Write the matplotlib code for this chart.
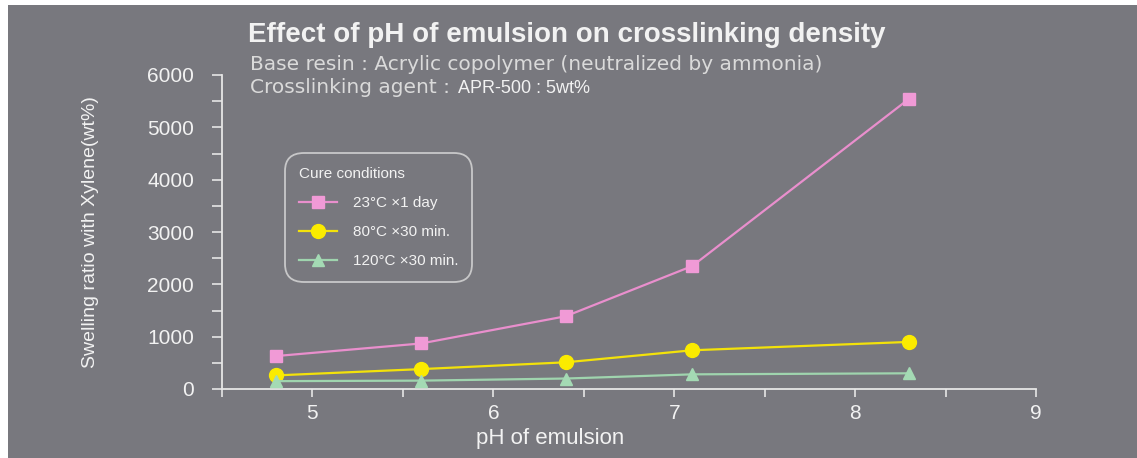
#! /bin/env python3

''' Swelling ratio vs pH of emulsion, one line per cure condition '''

import matplotlib
matplotlib.use('Agg')
import matplotlib.pyplot as plt
from matplotlib.patches import Rectangle
from matplotlib.ticker import MultipleLocator

ph_values = [4.8, 5.6, 6.4, 7.1, 8.3]
swell_23c_1day = [630, 870, 1390, 2350, 5550]
swell_80c_30min = [260, 380, 510, 740, 900]
swell_120c_30min = [150, 160, 200, 280, 300]

series_labels = ['23\u00b0C \u00d71 day', '80\u00b0C \u00d730 min.', '120\u00b0C \u00d730 min.']
x_ticks = [5, 6, 7, 8, 9]
y_ticks = [0, 1000, 2000, 3000, 4000, 5000, 6000]

title = 'Effect of pH of emulsion on crosslinking density'
subtitle_1 = 'Base resin : Acrylic copolymer (neutralized by ammonia)'
subtitle_2a = 'Crosslinking agent :'
subtitle_2b = 'APR-500 : 5wt%'

BG = '#78787e'
FG = '#f2f2f2'
SUB = '#dadada'
W, H = 1137, 458


def _main():
    plt.rcParams.update({'font.family': ['Liberation Sans', 'DejaVu Sans']})

    fig = plt.figure(figsize=(W / 100, H / 100), dpi=100, facecolor='white')
    # grey scanned page, with a thin white strip on the top and the left
    fig.patches.append(Rectangle((8 / W, 0), 1 - 8 / W, 1 - 5 / H, transform=fig.transFigure,
                                 facecolor=BG, edgecolor='none', zorder=-10))

    ax = fig.add_axes([222 / W, 1 - 389 / H, (1036 - 222) / W, (389 - 75) / H])
    ax.set_facecolor('none')

    ax.plot(ph_values, swell_23c_1day, color='#e98fcd', linewidth=1.6, marker='s',
            markersize=9, markerfacecolor='#f09ad6', markeredgecolor='#f09ad6',
            label=series_labels[0], zorder=3)
    ax.plot(ph_values, swell_80c_30min, color='#f3e20a', linewidth=1.6, marker='o',
            markersize=10, markerfacecolor='#fbeb00', markeredgecolor='#fbeb00',
            label=series_labels[1], zorder=3)
    ax.plot(ph_values, swell_120c_30min, color='#9fd4ae', linewidth=1.6, marker='^',
            markersize=9, markerfacecolor='#a4dab4', markeredgecolor='#a4dab4',
            label=series_labels[2], zorder=3)

    ax.set_xlim(4.5, 9)
    ax.set_ylim(0, 6000)
    ax.set_xticks(x_ticks)
    ax.set_yticks(y_ticks)
    ax.xaxis.set_minor_locator(MultipleLocator(0.5))
    ax.yaxis.set_minor_locator(MultipleLocator(500))

    for side in ('top', 'right'):
        ax.spines[side].set_visible(False)
    for side in ('left', 'bottom'):
        ax.spines[side].set_color('#e6e6e6')
        ax.spines[side].set_linewidth(1.3)

    ax.tick_params(axis='x', which='both', direction='out', length=6, width=1.2,
                   color='#e6e6e6', labelcolor=FG, labelsize=15, pad=5)
    ax.tick_params(axis='y', which='both', direction='out', length=7, width=1.2,
                   color='#e6e6e6', labelcolor=FG, labelsize=15, pad=13)

    ax.set_xlabel('pH of emulsion', color=FG, fontsize=16)
    ax.xaxis.set_label_coords(0.403, -0.125)
    ax.set_ylabel('Swelling ratio with Xylene(wt%)', color=FG, fontsize=14, labelpad=35)

    leg = ax.legend(title='Cure conditions', loc='upper left', bbox_to_anchor=(0.078, 0.752),
                    borderaxespad=0, fontsize=11, title_fontsize=11, frameon=True,
                    fancybox=True, facecolor='none', edgecolor='#dcdcdc', handlelength=2.5,
                    handletextpad=1.0, labelspacing=1.0, borderpad=0.9, alignment='left')
    leg.get_frame().set_linewidth(1.3)
    leg.get_frame().set_boxstyle('round,pad=0,rounding_size=1.2')
    leg.get_title().set_color(FG)
    for text in leg.get_texts():
        text.set_color(FG)

    fig.text(248 / W, 1 - 42 / H, title, color=FG, fontsize=20, fontweight='bold',
             va='baseline', ha='left')
    fig.text(250 / W, 1 - 70 / H, subtitle_1, color=SUB, fontsize=14.5,
             family='DejaVu Sans', va='baseline', ha='left')
    agent = fig.text(250 / W, 1 - 93 / H, subtitle_2a, color=SUB, fontsize=14.5,
                     family='DejaVu Sans', va='baseline', ha='left')
    # the agent name follows the label, never closer than the label's end
    end_px = agent.get_window_extent(renderer=fig.canvas.get_renderer()).x1
    fig.text(max(end_px + 8, 422) / W, 1 - 93 / H, subtitle_2b, color=FG, fontsize=13,
             va='baseline', ha='left')

    fig.savefig('out.png', dpi=100, facecolor=fig.get_facecolor())


if __name__ == "__main__":
    _main()
